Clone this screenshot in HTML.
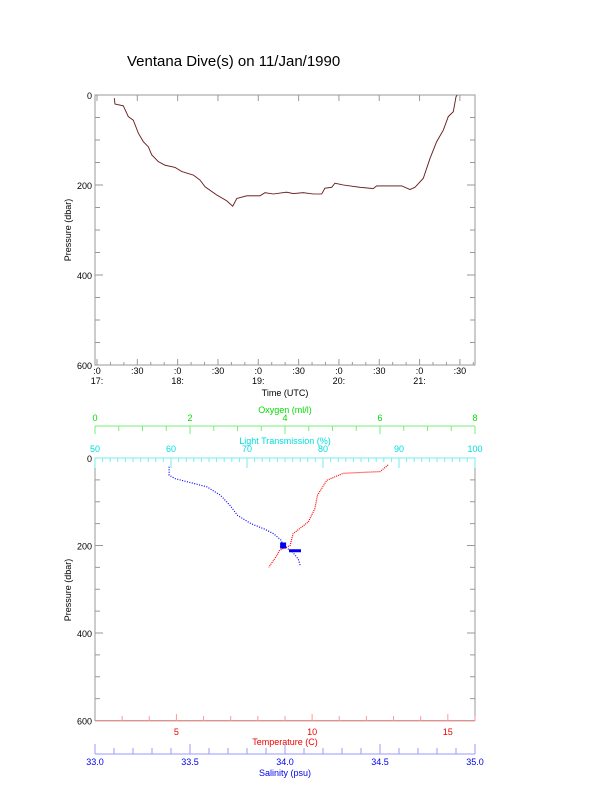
<!DOCTYPE html>
<html><head><meta charset="utf-8"><style>
body{margin:0;background:#fff}
svg{display:block;font-family:"Liberation Sans",sans-serif}
</style></head><body>
<svg id="c" width="612" height="785" viewBox="0 0 612 785">
<text x="127" y="66" font-size="15">Ventana Dive(s) on 11/Jan/1990</text>
<g id="topg"></g>
<g id="botg"></g>
</svg>
<script>
// Top chart data: minutes after 17:00 UTC and pressure (dbar)
const timeMin=[12.9,13.4,19.6,23.3,27.0,30.8,34.5,38.2,40.7,45.6,50.6,58.0,63.0,71.7,76.6,80.4,89.0,96.5,101,104,111.4,121.3,125,131.2,141.1,146,153.5,161,167.2,169.6,174.6,177,183.3,195.7,205.6,208,220.5,226.7,232.9,236.6,242.8,247.8,252.7,257.7,261.4,265.1,267.1,268];
const pressTop=[7,20,24,48,56,85,104,115,133,148,156,161,170,178,189,204,222,235,247,230,224,224,217,220,216,219,217,220,220,207,205,196,200,205,208,202,202,202,210,205,185,141,104,78,48,37,4,0];
const timeTickLabels=[":0|17:",":30",":0|18:",":30",":0|19:",":30",":0|20:",":30",":0|21:",":30"];
const pTicks=[0,200,400,600];
// Bottom chart data: pressure (dbar) vs salinity (psu)
const salPress=[20,39,47,58,66,85,108,131,150,162,173,188,200,215,231,246];
const salVals=[33.39,33.39,33.42,33.52,33.59,33.66,33.71,33.75,33.82,33.89,33.94,33.98,33.99,34.04,34.07,34.08];
// pressure vs temperature (C)
const tempPress=[16,31,35,51,85,116,146,173,200,211,223,250];
const tempVals=[12.8,12.5,11.15,10.54,10.2,10.1,9.86,9.3,9.19,8.8,8.7,8.4];
const oxyTicks=[0,2,4,6,8];
const ltTicks=[50,60,70,80,90,100];
const tempTicks=[5,10,15];
const salTicks=["33.0","33.5","34.0","34.5","35.0"];

const NS="http://www.w3.org/2000/svg";
function mk(p,tag,at,txt){const e=document.createElementNS(NS,tag);for(const k in at)e.setAttribute(k,at[k]);if(txt!==undefined)e.textContent=txt;p.appendChild(e);return e;}
const topG=document.getElementById('topg'),botG=document.getElementById('botg');
const L=95,R=475;
const tx=t=>97+t*1.344;
const ty=p=>95+p*270/600;
let f=mk(topG,'rect',{x:L,y:95,width:R-L,height:270,fill:'none',stroke:'#999'});


for(let p=0;p<=600;p+=50){const y=ty(p),len=p%200==0?8:5;mk(topG,'line',{x1:L,y1:y,x2:L+len,y2:y,stroke:'#999'});mk(topG,'line',{x1:R,y1:y,x2:R-len,y2:y,stroke:'#999'});}
pTicks.forEach(p=>{const t=mk(topG,'text',{x:92,y:ty(p)+4,'font-size':9,'text-anchor':'end'},p);

});
timeTickLabels.forEach((lab,i)=>{const x=tx(i*30);mk(topG,'line',{x1:x,y1:365,x2:x,y2:359,stroke:'#999'});mk(topG,'line',{x1:x,y1:95,x2:x,y2:101,stroke:'#999'});
const parts=lab.split('|');const t=mk(topG,'text',{x:x,y:374,'font-size':9,'text-anchor':'middle'},parts[0]);


if(parts[1]){const t2=mk(topG,'text',{x:x,y:384,'font-size':9,'text-anchor':'middle'},parts[1]);

}});
for(let m=10;m<290;m+=10){if(m%30)mk(topG,'line',{x1:tx(m),y1:365,x2:tx(m),y2:362,stroke:'#999'});}
let xt=mk(topG,'text',{x:285,y:396,'font-size':9,'text-anchor':'middle'},'Time (UTC)');


let yt=mk(topG,'text',{x:0,y:0,'font-size':9,'text-anchor':'middle',transform:'translate(71,230) rotate(-90)'},'Pressure (dbar)');


let pts=timeMin.map((t,i)=>tx(t).toFixed(1)+','+ty(pressTop[i]).toFixed(1)).join(' ');
mk(topG,'polyline',{points:pts,fill:'none',stroke:'#e66',"stroke-width":1.1});
let dl=mk(topG,'polyline',{points:pts,fill:'none',stroke:'#222',"stroke-width":0.6});



const by=p=>458+p*0.4375;
const sx=s=>95+(s-33)*190;
const tpx=t=>95+(t-2)*27.14;
const ox=o=>95+o*47.5;
const lx=v=>95+(v-50)*7.6;
let fb=mk(botG,'rect',{x:L,y:458,width:R-L,height:262.5,fill:'none',stroke:'#999'});


for(let p=0;p<=600;p+=50){const y=by(p),len=p%200==0?8:5;mk(botG,'line',{x1:L,y1:y,x2:L+len,y2:y,stroke:'#999'});mk(botG,'line',{x1:R,y1:y,x2:R-len,y2:y,stroke:'#999'});}
pTicks.forEach(p=>{const t=mk(botG,'text',{x:92,y:by(p)+4,'font-size':9,'text-anchor':'end'},p);

});
let yt2=mk(botG,'text',{x:0,y:0,'font-size':9,'text-anchor':'middle',transform:'translate(71,590) rotate(-90)'},'Pressure (dbar)');


mk(botG,'line',{x1:L,y1:426,x2:R,y2:426,stroke:'#7e7'});
for(let o=0;o<=8;o+=0.5){mk(botG,'line',{x1:ox(o),y1:426,x2:ox(o),y2:o%2==0?434:431,stroke:'#7e7'});}
oxyTicks.forEach(o=>{const t=mk(botG,'text',{x:ox(o),y:421,'font-size':9,'text-anchor':'middle',fill:'#0d0'},o);

});
let ot=mk(botG,'text',{x:285,y:413,'font-size':9,'text-anchor':'middle',fill:'#0d0'},'Oxygen (ml/l)');


mk(botG,'line',{x1:L,y1:458,x2:R,y2:458,stroke:'#7ee'});
for(let v=50;v<=100;v++){mk(botG,'line',{x1:lx(v),y1:458,x2:lx(v),y2:v%10==0?468:462,stroke:'#7ee'});}
ltTicks.forEach(v=>{const t=mk(botG,'text',{x:lx(v),y:452,'font-size':9,'text-anchor':'middle',fill:'#0dd'},v);

});
let lt=mk(botG,'text',{x:285,y:444,'font-size':9,'text-anchor':'middle',fill:'#0dd'},'Light Transmission (%)');


mk(botG,'line',{x1:L,y1:721,x2:R,y2:721,stroke:'#f99'});
for(let t=3;t<=16;t++){mk(botG,'line',{x1:tpx(t),y1:721,x2:tpx(t),y2:t%5==0?714:716,stroke:'#f99'});}
tempTicks.forEach(t=>{const e=mk(botG,'text',{x:tpx(t),y:735,'font-size':9,'text-anchor':'middle',fill:'#e00'},t);

});
let tt=mk(botG,'text',{x:285,y:745,'font-size':9,'text-anchor':'middle',fill:'#e00'},'Temperature (C)');


mk(botG,'line',{x1:L,y1:754,x2:R,y2:754,stroke:'#99f'});
for(let i=0;i<=20;i++){const x=sx(33+i*0.1);mk(botG,'line',{x1:x,y1:754,x2:x,y2:i%5==0?744:748,stroke:'#99f'});}
salTicks.forEach(s=>{const e=mk(botG,'text',{x:sx(+s),y:765,'font-size':9,'text-anchor':'middle',fill:'#00e'},s);

});
let st=mk(botG,'text',{x:285,y:776,'font-size':9,'text-anchor':'middle',fill:'#00e'},'Salinity (psu)');


let sp=salVals.map((s,i)=>sx(s).toFixed(1)+','+by(salPress[i]).toFixed(1)).join(' ');
let sl=mk(botG,'polyline',{points:sp,fill:'none',stroke:'#00f','stroke-width':1.2,'stroke-dasharray':'1 1.5'});


let tp=tempVals.map((t,i)=>tpx(t).toFixed(1)+','+by(tempPress[i]).toFixed(1)).join(' ');
let tl=mk(botG,'polyline',{points:tp,fill:'none',stroke:'#f00','stroke-width':1.2,'stroke-dasharray':'1 1'});


let bl=mk(botG,'rect',{x:sx(33.99)-3,y:by(200)-3,width:6,height:6,fill:'#00e'});


mk(botG,'rect',{x:sx(34.0)+4,y:by(212)-1.5,width:12,height:3,fill:'#00e'});
</script>
</body></html>
